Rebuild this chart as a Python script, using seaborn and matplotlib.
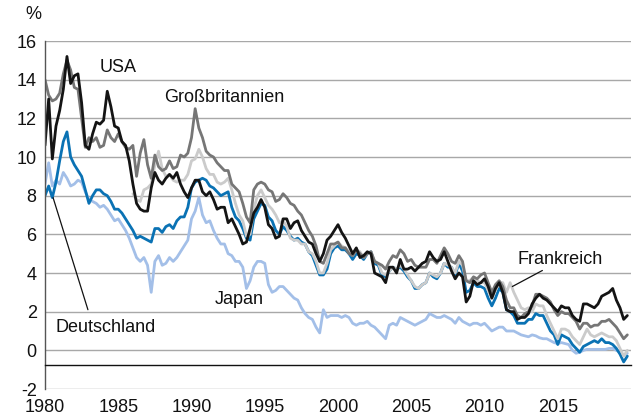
import matplotlib
matplotlib.use('Agg')
import matplotlib.pyplot as plt
import seaborn as sns
import numpy as np
import pandas as pd

# long-term government bond yields, quarterly readings (%)
quarters = pd.period_range('1980Q1', '2019Q4', freq='Q')

usa = [
    10.6, 13.0, 9.9, 11.6,    # 1980
    12.4, 13.5, 15.2, 13.8,
    14.2, 14.3, 12.8, 10.6,
    10.4, 11.2, 11.8, 11.7,
    11.9, 13.4, 12.6, 11.6,
    11.5, 10.8, 10.6, 9.8,
    8.6, 7.6, 7.3, 7.2,
    7.2, 8.4, 9.2, 8.8,
    8.6, 8.9, 9.1, 8.9,
    9.2, 8.6, 8.2, 7.9,       # 1989
    8.4, 8.8, 8.8, 8.2,
    8.0, 8.2, 7.8, 7.3,
    7.4, 7.4, 6.6, 6.8,
    6.4, 6.0, 5.5, 5.6,
    6.3, 7.1, 7.4, 7.8,
    7.4, 6.5, 6.3, 5.8,
    5.9, 6.8, 6.8, 6.3,
    6.6, 6.7, 6.2, 5.9,
    5.6, 5.5, 5.0, 4.6,
    5.0, 5.7, 5.9, 6.2,       # 1999
    6.5, 6.1, 5.8, 5.4,
    5.0, 5.3, 4.8, 4.9,
    5.1, 5.0, 4.0, 3.9,
    3.8, 3.5, 4.3, 4.3,
    4.0, 4.7, 4.2, 4.2,
    4.3, 4.1, 4.3, 4.5,
    4.6, 5.1, 4.8, 4.6,
    4.7, 5.1, 4.6, 4.1,
    3.7, 4.0, 3.8, 2.5,
    2.8, 3.6, 3.4, 3.5,       # 2009
    3.7, 3.3, 2.7, 3.2,
    3.5, 3.0, 2.1, 2.0,
    2.0, 1.6, 1.7, 1.7,
    1.9, 2.4, 2.7, 2.9,
    2.7, 2.6, 2.4, 2.2,
    2.0, 2.3, 2.2, 2.2,
    1.8, 1.6, 1.5, 2.4,
    2.4, 2.3, 2.2, 2.4,
    2.8, 2.9, 3.0, 3.2,
    2.6, 2.2, 1.6, 1.8,       # 2019
]

uk = [
    14.0, 13.2, 12.9, 13.0,   # 1980
    13.3, 14.3, 15.0, 14.5,
    13.6, 13.5, 12.0, 10.5,
    11.0, 10.8, 11.0, 10.5,
    10.6, 11.4, 11.0, 10.8,
    11.2, 10.8, 10.5, 10.4,
    10.6, 9.0, 10.2, 10.9,
    9.6, 8.9, 10.1, 9.5,
    9.3, 9.4, 9.8, 9.4,
    9.5, 10.1, 10.0, 10.2,    # 1989
    11.0, 12.5, 11.5, 11.0,
    10.3, 10.1, 10.0, 9.7,
    9.5, 9.3, 9.3, 8.6,
    8.4, 8.2, 7.6, 6.9,
    6.6, 8.3, 8.6, 8.7,
    8.6, 8.3, 8.2, 7.7,
    7.8, 8.1, 7.9, 7.6,
    7.5, 7.2, 7.0, 6.6,
    6.2, 5.9, 5.4, 4.6,
    4.5, 5.0, 5.5, 5.5,       # 1999
    5.6, 5.3, 5.3, 5.0,
    4.9, 5.2, 5.0, 4.8,
    5.0, 5.1, 4.6, 4.5,
    4.4, 4.2, 4.6, 4.9,
    4.8, 5.2, 5.0, 4.6,
    4.7, 4.4, 4.3, 4.3,
    4.3, 4.7, 4.7, 4.5,
    4.9, 5.3, 5.0, 4.6,
    4.5, 4.9, 4.6, 3.6,
    3.5, 3.8, 3.7, 3.9,       # 2009
    4.0, 3.5, 3.0, 3.4,
    3.6, 3.3, 2.6, 2.2,
    2.2, 1.8, 1.7, 1.9,
    2.0, 2.3, 2.9, 2.9,
    2.8, 2.7, 2.5, 2.1,
    1.8, 2.0, 1.9, 1.9,
    1.7, 1.5, 1.1, 1.4,
    1.4, 1.2, 1.3, 1.3,
    1.5, 1.5, 1.6, 1.4,
    1.2, 0.9, 0.6, 0.8,       # 2019
]

# France only from 1986
france = [np.nan] * 24 + [
    8.1, 7.8, 7.7, 8.3,       # 1986
    8.4, 8.6, 9.6, 10.3,
    9.4, 9.0, 9.1, 8.8,
    8.7, 8.8, 8.8, 9.1,       # 1989
    9.8, 9.9, 10.4, 10.0,
    9.4, 9.1, 9.1, 8.7,
    8.6, 8.7, 8.9, 8.3,
    7.6, 7.0, 6.7, 5.9,
    6.0, 7.3, 8.0, 8.3,
    7.9, 7.5, 7.3, 7.0,
    6.6, 6.7, 6.4, 5.8,
    5.7, 5.7, 5.5, 5.5,
    5.1, 5.0, 4.6, 4.0,
    4.0, 4.5, 5.2, 5.4,       # 1999
    5.6, 5.4, 5.3, 5.1,
    4.9, 5.2, 5.1, 4.8,
    5.0, 5.1, 4.6, 4.5,
    4.0, 3.9, 4.1, 4.3,
    4.2, 4.4, 4.2, 3.9,
    3.6, 3.3, 3.2, 3.4,
    3.5, 4.0, 3.9, 3.8,
    4.0, 4.5, 4.4, 4.3,
    4.0, 4.6, 4.4, 3.6,
    3.6, 3.8, 3.6, 3.5,       # 2009
    3.5, 3.1, 2.7, 3.1,
    3.5, 3.5, 3.0, 3.5,
    3.0, 2.6, 2.2, 2.1,
    2.2, 2.0, 2.4, 2.3,
    2.3, 1.8, 1.4, 1.0,
    0.6, 1.1, 1.1, 1.0,
    0.7, 0.5, 0.3, 0.7,
    1.1, 0.8, 0.7, 0.8,
    0.9, 0.8, 0.7, 0.7,
    0.5, 0.1, -0.3, 0.0,      # 2019
]

germany = [
    8.0, 8.5, 7.9, 8.7,       # 1980
    9.8, 10.8, 11.3, 10.0,
    9.6, 9.3, 9.0, 8.3,
    7.6, 8.0, 8.3, 8.3,
    8.1, 8.0, 7.7, 7.3,
    7.3, 7.1, 6.8, 6.5,
    6.2, 5.8, 5.9, 5.8,
    5.7, 5.6, 6.3, 6.3,
    6.1, 6.4, 6.5, 6.3,
    6.7, 6.9, 6.9, 7.4,       # 1989
    8.4, 8.7, 8.8, 8.9,
    8.8, 8.5, 8.4, 8.2,
    8.0, 8.1, 8.2, 7.4,
    6.9, 6.7, 6.3, 5.8,
    5.7, 6.8, 7.2, 7.6,
    7.5, 6.9, 6.7, 6.2,
    6.0, 6.4, 6.2, 5.9,
    5.7, 5.8, 5.6, 5.5,
    5.1, 4.9, 4.4, 3.9,
    3.9, 4.2, 5.0, 5.3,       # 1999
    5.4, 5.2, 5.2, 5.0,
    4.7, 5.0, 4.9, 4.7,
    5.0, 5.1, 4.5, 4.4,
    3.9, 3.8, 4.1, 4.3,
    4.2, 4.3, 4.1, 3.8,
    3.6, 3.2, 3.2, 3.4,
    3.5, 4.0, 3.8, 3.7,
    4.0, 4.5, 4.3, 4.3,
    3.9, 4.5, 4.1, 3.0,
    3.1, 3.5, 3.3, 3.3,       # 2009
    3.2, 2.7, 2.3, 2.7,
    3.2, 3.0, 2.1, 2.0,
    1.8, 1.4, 1.4, 1.4,
    1.6, 1.6, 1.9, 1.8,
    1.8, 1.4, 1.0, 0.8,
    0.3, 0.8, 0.7, 0.6,
    0.3, 0.1, -0.1, 0.2,
    0.3, 0.4, 0.5, 0.4,
    0.6, 0.4, 0.4, 0.3,
    0.1, -0.2, -0.6, -0.3,    # 2019
]

japan = [
    8.6, 9.7, 8.5, 8.8,       # 1980
    8.6, 9.2, 8.9, 8.5,
    8.6, 8.8, 8.7, 8.2,
    7.8, 7.7, 7.6, 7.4,
    7.5, 7.3, 7.0, 6.7,
    6.8, 6.5, 6.2, 5.8,
    5.3, 4.8, 4.6, 4.8,
    4.4, 3.0, 4.6, 4.9,
    4.4, 4.5, 4.8, 4.6,
    4.8, 5.1, 5.4, 5.7,       # 1989
    6.8, 7.2, 7.9, 7.0,
    6.6, 6.7, 6.2, 5.8,
    5.5, 5.5, 5.0, 4.9,
    4.6, 4.6, 4.3, 3.2,
    3.6, 4.3, 4.6, 4.6,
    4.5, 3.4, 3.0, 3.1,
    3.3, 3.3, 3.1, 2.9,
    2.7, 2.6, 2.2, 1.9,
    1.7, 1.6, 1.2, 0.9,
    2.1, 1.7, 1.8, 1.8,       # 1999
    1.8, 1.7, 1.8, 1.7,
    1.4, 1.3, 1.4, 1.4,
    1.5, 1.3, 1.2, 1.0,
    0.8, 0.6, 1.3, 1.4,
    1.3, 1.7, 1.6, 1.5,
    1.4, 1.3, 1.4, 1.5,
    1.6, 1.9, 1.8, 1.7,
    1.7, 1.8, 1.7, 1.6,
    1.4, 1.7, 1.5, 1.4,
    1.3, 1.4, 1.4, 1.3,       # 2009
    1.4, 1.2, 1.0, 1.1,
    1.2, 1.2, 1.0, 1.0,
    1.0, 0.9, 0.8, 0.75,
    0.7, 0.8, 0.75, 0.65,
    0.6, 0.6, 0.5, 0.4,
    0.35, 0.4, 0.35, 0.3,
    0.0, -0.15, -0.1, 0.0,
    0.05, 0.05, 0.05, 0.05,
    0.05, 0.05, 0.1, 0.1,
    0.0, -0.1, -0.25, -0.15,  # 2019
]

countries = ['Japan', 'Deutschland', 'Frankreich', 'Großbritannien', 'USA']
colors = ['#a3bfe8', '#0a72b4', '#cbcbcb', '#767676', '#141414']

t = quarters.year + (quarters.quarter - 1) / 4
df = pd.DataFrame({'t': t, 'Japan': japan, 'Deutschland': germany,
                   'Frankreich': france, 'Großbritannien': uk, 'USA': usa})
df = df.melt(id_vars='t', var_name='land', value_name='rate').dropna()

sns.set_theme(style='white')
plt.rcParams['font.family'] = ['Liberation Sans', 'DejaVu Sans']
plt.rcParams['axes.unicode_minus'] = False

fig = plt.figure(figsize=(6.35, 4.16), dpi=100)
ax = fig.add_axes([45 / 635, 27 / 416, 586 / 635, 348 / 416])

sns.lineplot(data=df, x='t', y='rate', hue='land', hue_order=countries,
             palette=dict(zip(countries, colors)), linewidth=2.0,
             estimator=None, legend=False, ax=ax)

ax.set_xlim(1980, 2020)
ax.set_ylim(-2, 16)
ax.set_yticks(range(-2, 17, 2))
ax.set_xticks(range(1980, 2020, 5))
ax.set_xlabel('')
ax.set_ylabel('')
ax.grid(axis='y', color='#a8a8a8', linewidth=1.0)
ax.set_axisbelow(True)

for s in ['top', 'right']:
    ax.spines[s].set_visible(False)
ax.spines['left'].set_color('#555555')
ax.spines['left'].set_linewidth(1.0)
ax.spines['bottom'].set_position(('data', -0.78))
ax.spines['bottom'].set_color('#111111')
ax.spines['bottom'].set_linewidth(1.0)

ax.tick_params(axis='y', length=3, width=1, color='#777777', pad=3,
               labelsize=13, labelcolor='#111111')
ax.tick_params(axis='x', length=3, width=1, color='#111111', direction='out',
               pad=21, labelsize=13, labelcolor='#111111')

ax.text(-0.019, 1.075, '%', transform=ax.transAxes, ha='center', va='center',
        fontsize=13, color='#111111')

# labels
lab = dict(ha='center', va='baseline', fontsize=13, color='#111111')
ax.text(1984.98, 14.42, 'USA', **lab)
ax.text(1992.24, 12.87, 'Großbritannien', **lab)
ax.text(1993.26, 2.38, 'Japan', **lab)
ax.text(1984.16, 0.93, 'Deutschland', **lab)
ax.text(2015.14, 4.44, 'Frankreich', **lab)

line = dict(arrowstyle='-', lw=0.9, color='#111111', shrinkA=0, shrinkB=0)
ax.annotate('', xy=(1980.55, 7.9), xytext=(1982.93, 2.1), arrowprops=line)
ax.annotate('', xy=(2011.9, 3.3), xytext=(2013.95, 4.13), arrowprops=line)

fig.savefig('out.png', dpi=100)
